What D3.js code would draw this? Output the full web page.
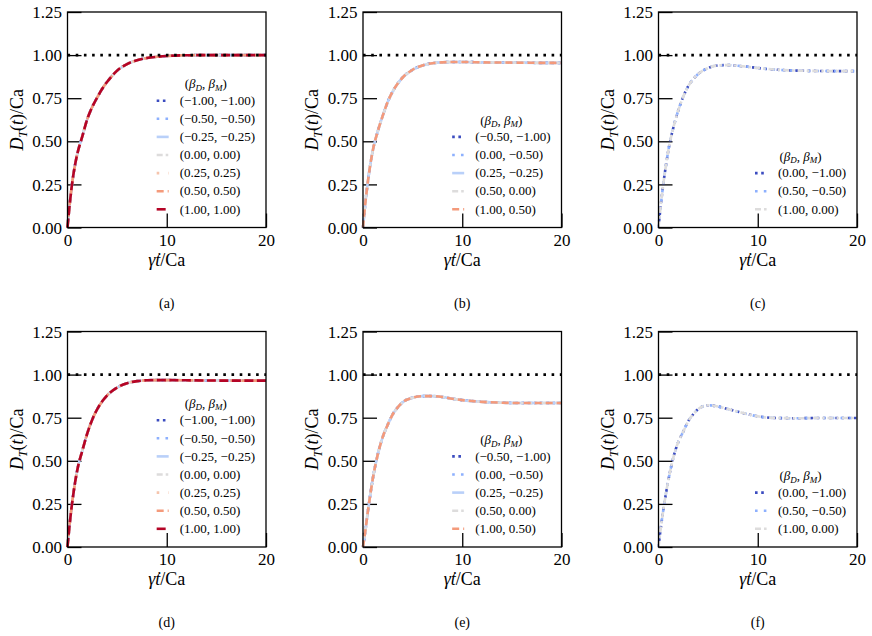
<!DOCTYPE html>
<html>
<head>
<meta charset="utf-8">
<script src="https://cdn.jsdelivr.net/npm/d3@7"></script>
<style>
  body { margin: 0; background: #fff; }
  svg, svg text { font-family: "Liberation Serif", "DejaVu Serif", serif; }
</style>
</head>
<body>
<div id="chart"></div>
<script>
// time grid shared by every curve (gamma-dot t / Ca)
const tGrid = [0, 0.25, 0.5, 0.75, 1, 1.5, 2, 2.5, 3, 3.5, 4, 5, 6, 7, 8, 9, 10, 12, 14, 16, 18, 20];

// D_T(t)/Ca (the series in a panel lie on top of each other)
const curveA = [0, 0.15, 0.27, 0.36, 0.43, 0.53, 0.63, 0.70, 0.755, 0.805, 0.845, 0.91, 0.948, 0.97, 0.983, 0.99, 0.995, 0.999, 1.0, 1.0, 1.0, 1.0];
const curveB = [0, 0.15, 0.27, 0.37, 0.45, 0.56, 0.65, 0.73, 0.79, 0.835, 0.87, 0.915, 0.94, 0.953, 0.958, 0.96, 0.96, 0.958, 0.957, 0.956, 0.955, 0.955];
const curveC = [0, 0.14, 0.26, 0.36, 0.45, 0.58, 0.68, 0.76, 0.82, 0.86, 0.89, 0.925, 0.94, 0.942, 0.938, 0.932, 0.925, 0.915, 0.91, 0.908, 0.907, 0.907];
const curveD = [0, 0.15, 0.27, 0.37, 0.45, 0.56, 0.66, 0.74, 0.80, 0.845, 0.88, 0.925, 0.95, 0.962, 0.967, 0.968, 0.968, 0.967, 0.966, 0.965, 0.965, 0.965];
const curveE = [0, 0.10, 0.21, 0.31, 0.40, 0.54, 0.64, 0.71, 0.77, 0.81, 0.84, 0.866, 0.875, 0.875, 0.87, 0.86, 0.852, 0.842, 0.837, 0.835, 0.835, 0.835];
const curveF = [0, 0.12, 0.22, 0.31, 0.39, 0.52, 0.61, 0.67, 0.73, 0.77, 0.80, 0.822, 0.815, 0.80, 0.785, 0.77, 0.758, 0.748, 0.747, 0.748, 0.748, 0.748];

// legend labels (beta_D, beta_M) and the beta_M key that sets colour / dash
const labelsSym = ["(−1.00, −1.00)", "(−0.50, −0.50)", "(−0.25, −0.25)", "(0.00, 0.00)", "(0.25, 0.25)", "(0.50, 0.50)", "(1.00, 1.00)"];
const keysSym = [-1, -0.5, -0.25, 0, 0.25, 0.5, 1];
const labelsShiftHalf = ["(−0.50, −1.00)", "(0.00, −0.50)", "(0.25, −0.25)", "(0.50, 0.00)", "(1.00, 0.50)"];
const keysShiftHalf = [-1, -0.5, -0.25, 0, 0.5];
const labelsShiftOne = ["(0.00, −1.00)", "(0.50, −0.50)", "(1.00, 0.00)"];
const keysShiftOne = [-1, -0.5, 0];

const betaKeys = [-1, -0.5, -0.25, 0, 0.25, 0.5, 1];
const lineColors = ["#3b4cc0", "#8db0fe", "#b9d0f9", "#dddcdc", "#f5c4ac", "#f49a7b", "#b40426"];
const lineDashes = ["2.6,3.6", "2.6,6.2", null, "6,3,2.6,3", "2.6,9", "7,4", "9,3.5"];

const yTicks = [0, 0.25, 0.5, 0.75, 1.0, 1.25];
const xTicks = [0, 10, 20];
const captions = ["(a)", "(b)", "(c)", "(d)", "(e)", "(f)"];

const panels = [
  { values: curveA, labels: labelsSym, keys: keysSym },
  { values: curveB, labels: labelsShiftHalf, keys: keysShiftHalf },
  { values: curveC, labels: labelsShiftOne, keys: keysShiftOne },
  { values: curveD, labels: labelsSym, keys: keysSym },
  { values: curveE, labels: labelsShiftHalf, keys: keysShiftHalf },
  { values: curveF, labels: labelsShiftOne, keys: keysShiftOne }
];

// layout
const svgWidth = 872, svgHeight = 636;
const colLeft = [67.5, 363, 658.5];
const rowTop = [12, 331.5];
const plotW = 198.5, plotH = 215.5;
const serif = '"Liberation Serif", "DejaVu Serif", serif';

const svg = d3.select('#chart').append('svg')
  .attr('width', svgWidth)
  .attr('height', svgHeight);

svg.append('rect').attr('width', svgWidth).attr('height', svgHeight).attr('fill', '#fff');

const x = d3.scaleLinear().domain([0, 20]).range([0, plotW]);
const y = d3.scaleLinear().domain([0, 1.25]).range([plotH, 0]);

const line = d3.line()
  .x(d => x(d[0]))
  .y(d => y(d[1]))
  .curve(d3.curveMonotoneX);

panels.forEach((p, i) => {
  const left = colLeft[i % 3], top = rowTop[Math.floor(i / 3)];
  const g = svg.append('g').attr('transform', `translate(${left},${top})`);

  // inward ticks + labels
  const yAxis = d3.axisLeft(y).tickValues(yTicks).tickFormat(d3.format('.2f')).tickSize(-14);
  const xAxis = d3.axisBottom(x).tickValues(xTicks).tickSize(-14);

  const ya = g.append('g').call(yAxis);
  const xa = g.append('g').attr('transform', `translate(0,${plotH})`).call(xAxis);
  [ya, xa].forEach(a => {
    a.attr('font-family', null).attr('font-size', null);
    a.select('.domain').remove();
    a.selectAll('line').attr('stroke', '#000').attr('stroke-width', 1.3);
    a.selectAll('text').attr('fill', '#000')
      .style('font-family', serif).style('font-size', '17px');
  });
  ya.selectAll('text').attr('x', -5.5).attr('dy', '0.33em');
  xa.selectAll('text').attr('y', 6).attr('dy', '0.71em');

  // curves (same read-off values for every overlapping series)
  const pts = tGrid.map((t, k) => [t, p.values[k]]);
  p.keys.forEach(key => {
    const idx = betaKeys.indexOf(key);
    g.append('path')
      .datum(pts)
      .attr('d', line)
      .attr('fill', 'none')
      .attr('stroke', lineColors[idx])
      .attr('stroke-width', 2.6)
      .attr('stroke-dasharray', lineDashes[idx]);
  });

  // reference line D_T/Ca = 1
  g.append('line')
    .attr('x1', x(0)).attr('x2', x(20))
    .attr('y1', y(1)).attr('y2', y(1))
    .attr('stroke', '#000')
    .attr('stroke-width', 2.6)
    .attr('stroke-dasharray', '2.6,5.6');

  // frame
  g.append('rect')
    .attr('width', plotW).attr('height', plotH)
    .attr('fill', 'none').attr('stroke', '#000').attr('stroke-width', 1.3);

  // legend, anchored lower right
  const legend = g.append('g').style('font-size', '13px');
  const rowGap = 18.1;
  const n = p.labels.length;
  const rowY = k => plotH - 18.2 - (n - 1 - k) * rowGap;
  const texts = legend.selectAll('text.lab')
    .data(p.labels).enter().append('text')
    .attr('class', 'lab')
    .attr('y', (d, k) => rowY(k))
    .attr('dy', '0.33em')
    .text(d => d);
  let maxW = 0;
  texts.each(function () { maxW = Math.max(maxW, this.getComputedTextLength()); });
  const textX = plotW - 11 - maxW;
  texts.attr('x', textX);
  legend.selectAll('line.h')
    .data(p.keys).enter().append('line')
    .attr('x1', textX - 23).attr('x2', textX - 11)
    .attr('y1', (d, k) => rowY(k))
    .attr('y2', (d, k) => rowY(k))
    .attr('stroke', d => lineColors[betaKeys.indexOf(d)])
    .attr('stroke-width', 2.6)
    .attr('stroke-dasharray', d => lineDashes[betaKeys.indexOf(d)]);

  const title = legend.append('text')
    .attr('x', (textX - 23 + plotW - 11) / 2)
    .attr('y', rowY(0) - 16.5)
    .attr('dy', '0.33em')
    .attr('text-anchor', 'middle');
  title.append('tspan').text('(');
  title.append('tspan').attr('font-style', 'italic').text('β');
  title.append('tspan').attr('font-style', 'italic').style('font-size', '9px').attr('dy', 2.5).text('D');
  title.append('tspan').attr('dy', -2.5).text(', ');
  title.append('tspan').attr('font-style', 'italic').text('β');
  title.append('tspan').attr('font-style', 'italic').style('font-size', '9px').attr('dy', 2.5).text('M');
  title.append('tspan').attr('dy', -2.5).text(')');

  // x axis title
  const xt = g.append('text')
    .attr('x', plotW / 2)
    .attr('y', plotH + 38)
    .attr('text-anchor', 'middle')
    .style('font-size', '18px');
  xt.append('tspan').attr('font-style', 'italic').text('γ\u0307t');
  xt.append('tspan').text('/Ca');

  // y axis title
  const yt = g.append('text')
    .attr('transform', `translate(${-45},${plotH / 2}) rotate(-90)`)
    .attr('text-anchor', 'middle')
    .style('font-size', '18px');
  yt.append('tspan').attr('font-style', 'italic').text('D');
  yt.append('tspan').attr('font-style', 'italic').style('font-size', '12px').attr('dy', 4).text('T');
  yt.append('tspan').attr('dy', -4).text('(');
  yt.append('tspan').attr('font-style', 'italic').text('t');
  yt.append('tspan').text(')/Ca');

  // caption
  g.append('text')
    .attr('x', plotW / 2)
    .attr('y', plotH + 80)
    .attr('text-anchor', 'middle')
    .style('font-size', '14px')
    .text(captions[i]);
});
</script>
</body>
</html>
